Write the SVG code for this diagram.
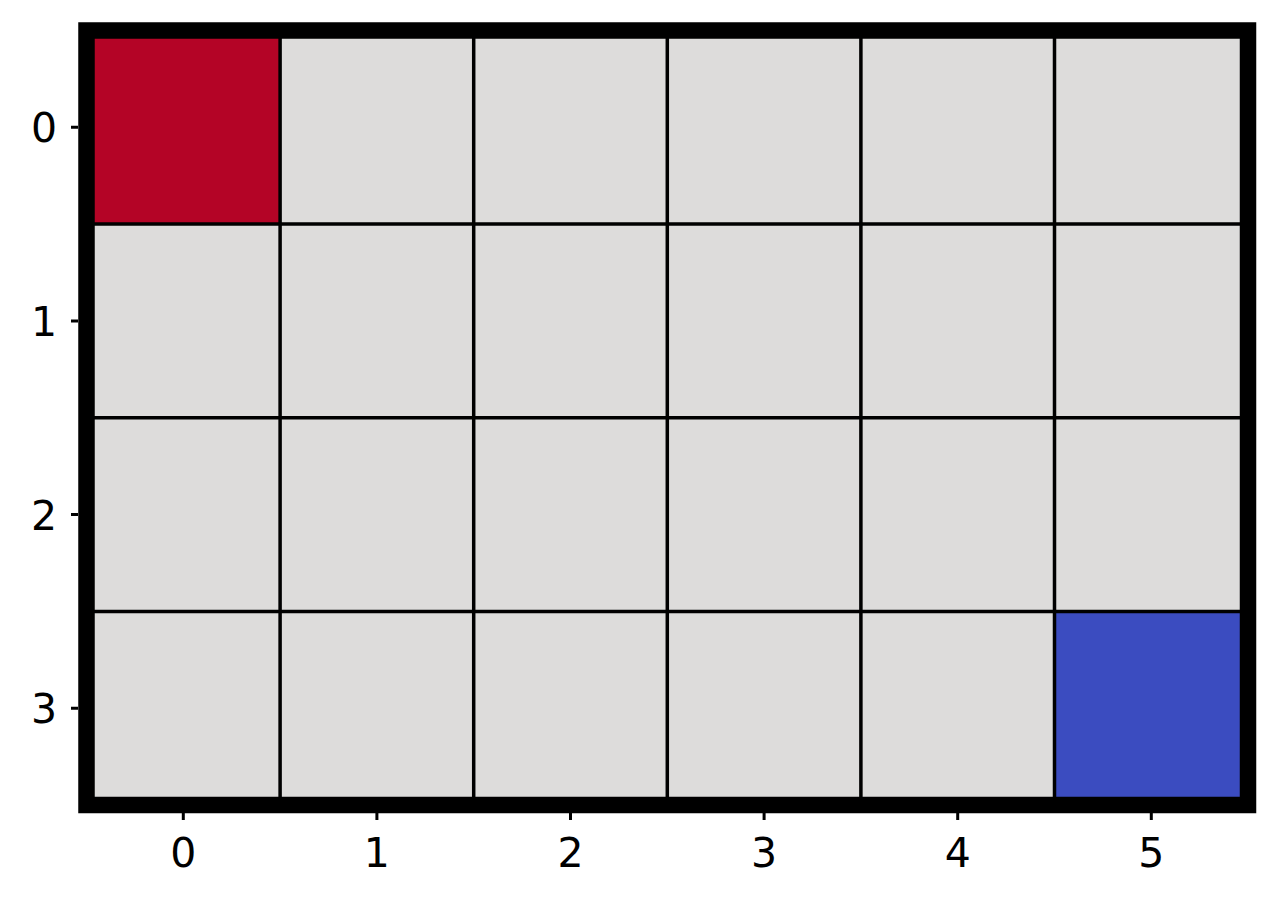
<svg xmlns="http://www.w3.org/2000/svg" width="1278" height="906" viewBox="0 0 1278 906">
<style>
.c{fill:#dddcdb}
.grid{stroke:#000;stroke-width:3.5;fill:none}
.tick{stroke:#000;stroke-width:3}
.lbl{font-family:"DejaVu Sans",sans-serif;font-size:41px;fill:#000}
</style>
<rect width="1278" height="906" fill="#fff"/>
<g id="cells">
<rect class="c" x="86.5" y="30.5" width="1161.5" height="774.5"/>
<rect id="start" x="86.5" y="30.5" width="193.6" height="193.6" fill="#b40426"/>
<rect id="goal" x="1054.5" y="611.4" width="193.5" height="193.6" fill="#3b4cc0"/>
</g>
<g id="gridlines" class="grid">
<path d="M280.1 30.5V805M473.7 30.5V805M667.3 30.5V805M860.9 30.5V805M1054.5 30.5V805M86.5 224.1H1248M86.5 417.7H1248M86.5 611.4H1248"/>
</g>
<rect id="frame" x="86.5" y="30.5" width="1161.5" height="774.5" fill="none" stroke="#000" stroke-width="16.5"/>
<g id="xticks" class="tick">
<path d="M183.3 813V820M376.9 813V820M570.5 813V820M764.1 813V820M957.7 813V820M1151.3 813V820"/>
</g>
<g id="yticks" class="tick">
<path d="M78 127.3H71M78 320.9H71M78 514.5H71M78 708.2H71"/>
</g>
<g id="xlabels" class="lbl" text-anchor="middle">
<text x="183.3" y="867">0</text>
<text x="376.9" y="867">1</text>
<text x="570.5" y="867">2</text>
<text x="764.1" y="867">3</text>
<text x="957.7" y="867">4</text>
<text x="1151.3" y="867">5</text>
</g>
<g id="ylabels" class="lbl" text-anchor="end">
<text x="57" y="142.3">0</text>
<text x="57" y="335.9">1</text>
<text x="57" y="529.5">2</text>
<text x="57" y="723.2">3</text>
</g>
</svg>
